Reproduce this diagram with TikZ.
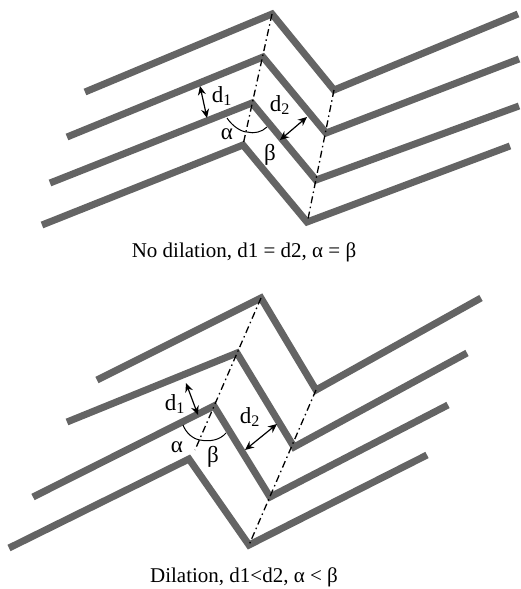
\documentclass[tikz,border=0pt]{standalone}
\usepackage{fontspec}
\setmainfont{Liberation Serif}
\usetikzlibrary{arrows.meta}
\definecolor{layergray}{RGB}{100,100,100}
\tikzset{
  layer/.style={draw=layergray,line width=7pt,line join=miter},
  axis/.style={draw=black,line width=1.3pt,dash pattern=on 7pt off 3.5pt on 1.5pt off 3.5pt},
  gap/.style={draw=black,line width=1.2pt,{Stealth[length=9pt,width=8pt]}-{Stealth[length=9pt,width=8pt]}},
  angarc/.style={draw=black,line width=1pt},
  lab/.style={inner sep=0pt,font=\fontsize{23}{25}\selectfont},
  caption/.style={inner sep=0pt,font=\fontsize{21}{24}\selectfont}
}
\begin{document}
\begin{tikzpicture}[x=1pt,y=-1pt]
\useasboundingbox (0,0) rectangle (521,589); %Same size as the reference
%No dilation, top picture
\begin{scope}
\draw[layer] (85,92)--(272,14)--(334,90)--(518,14); %Layer 1
\draw[layer] (67,137)--(263,57)--(326,133)--(519,59); %Layer 2
\draw[layer] (50,183)--(252,103)--(316,180)--(519,106); %Layer 3
\draw[layer] (42,225)--(243,145)--(307,222)--(510,146); %Layer 4
\coordinate (topA) at (272,14);
\coordinate (topB) at (243,145);
\coordinate (topC) at (334,90);
\coordinate (topD) at (308,219);
\draw[axis] (topA)--(topB); %Left axis
\draw[axis] (topC)--(topD); %Right axis
\coordinate (dOneA) at (200,86);
\coordinate (dOneB) at (207,118);
\coordinate (dTwoA) at (307,117);
\coordinate (dTwoB) at (280,140);
\draw[gap] (dOneA)--(dOneB); %d1
\draw[gap] (dTwoA)--(dTwoB); %d2
\draw[angarc] (227,118) .. controls (233,127) and (242,132) .. (247,132) .. controls (254,134) and (262,132) .. (267,127); %Angle arc
\node[lab] (dOneLab) at (222,96) {d\textsubscript{1}};
\node[lab] (dTwoLab) at (280,105) {d\textsubscript{2}};
\node[lab] (alphaLab) at (227,134) {α};
\node[lab] (betaLab) at (270,155) {β};
\node[caption] (topCap) at (244,252) {No dilation, d1 = d2, α = β};
\end{scope}
%Dilation, lower picture
\begin{scope}
\draw[layer] (97,380)--(261,298)--(316,390)--(481,298); %Layer 1
\draw[layer] (67,422)--(237,353)--(294,447)--(467,353); %Layer 2
\draw[layer] (33,497)--(214,406)--(270,497)--(448,405); %Layer 3
\draw[layer] (9,548)--(189,459)--(249,545)--(427,455); %Layer 4
\coordinate (lowA) at (261,298);
\coordinate (lowB) at (195,450);
\coordinate (lowC) at (316,390);
\coordinate (lowD) at (249,545);
\draw[axis] (lowA)--(lowB); %Left axis
\draw[axis] (lowC)--(lowD); %Right axis
\coordinate (dOneC) at (186,383);
\coordinate (dOneD) at (198,415);
\coordinate (dTwoC) at (277,424);
\coordinate (dTwoD) at (245,450);
\draw[gap] (dOneC)--(dOneD); %d1
\draw[gap] (dTwoC)--(dTwoD); %d2
\draw[angarc] (183,425) .. controls (186,433) and (193,439) .. (200,440) .. controls (210,442) and (220,440) .. (226,433); %Angle arc
\node[lab] (dOneLabB) at (175,404) {d\textsubscript{1}};
\node[lab] (dTwoLabB) at (250,417) {d\textsubscript{2}};
\node[lab] (alphaLabB) at (177,447) {α};
\node[lab] (betaLabB) at (213,457) {β};
\node[caption] (lowCap) at (244,577) {Dilation, d1<d2, α < β};
\end{scope}
\end{tikzpicture}
\end{document}
